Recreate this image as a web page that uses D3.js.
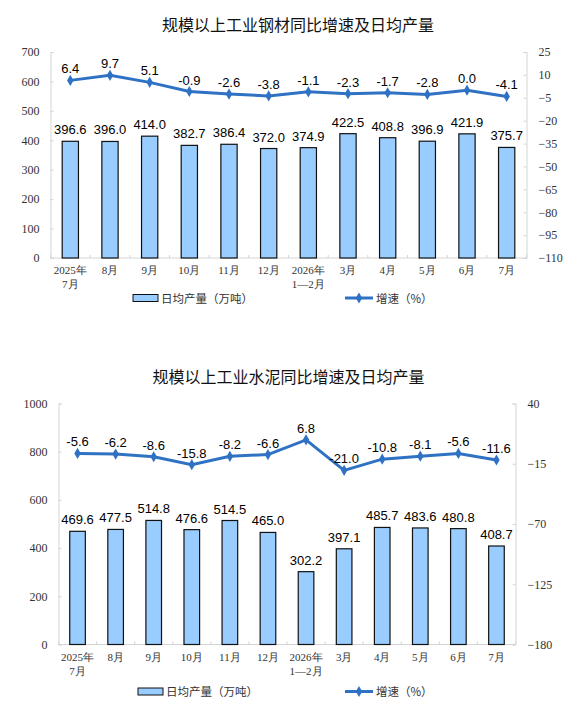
<!DOCTYPE html>
<html><head><meta charset="utf-8">
<script src="https://cdn.jsdelivr.net/npm/d3@7"></script>
<style>
body{margin:0;background:#fff;}
svg{display:block;}
</style></head>
<body>
<svg id="c" width="576" height="716"></svg>
<script>
const categories = ["2025年|7月","8月","9月","10月","11月","12月","2026年|1—2月","3月","4月","5月","6月","7月"];
const steelTitle = "规模以上工业钢材同比增速及日均产量";
const steelOutput = [396.6,396.0,414.0,382.7,386.4,372.0,374.9,422.5,408.8,396.9,421.9,375.7];
const steelGrowth = [6.4,9.7,5.1,-0.9,-2.6,-3.8,-1.1,-2.3,-1.7,-2.8,0.0,-4.1];
const steelLeftTicks = [0,100,200,300,400,500,600,700];
const steelRightTicks = [25,10,-5,-20,-35,-50,-65,-80,-95,-110];
const cementTitle = "规模以上工业水泥同比增速及日均产量";
const cementOutput = [469.6,477.5,514.8,476.6,514.5,465.0,302.2,397.1,485.7,483.6,480.8,408.7];
const cementGrowth = [-5.6,-6.2,-8.6,-15.8,-8.2,-6.6,6.8,-21.0,-10.8,-8.1,-5.6,-11.6];
const cementLeftTicks = [0,200,400,600,800,1000];
const cementRightTicks = [40,-15,-70,-125,-180];
const legendBar = "日均产量（万吨）";
const legendLine = "增速（%）";

const svg = d3.select("#c");
const BLUE = "#2F72C4";
const BAR = "#99CCFF";
const AX = "#D4D4D4";
const sans = "'Liberation Sans', Arial, sans-serif";
const serif = "'Liberation Serif', 'Times New Roman', serif";
const cjk = "'Noto Sans CJK SC', sans-serif";

function chart(o){
  const g = svg.append("g");
  g.append("text").attr("x",o.titleX).attr("y",o.titleY).attr("text-anchor","middle")
    .attr("font-family",cjk).attr("font-size",16).attr("font-weight",400).attr("fill","#111").text(o.title);

  const x = d3.scaleBand().domain(o.cats).range([o.left,o.right]);
  const yL = d3.scaleLinear().domain([0,d3.max(o.lt)]).range([o.bottom,o.top]);
  const yR = d3.scaleLinear().domain([d3.min(o.rt),d3.max(o.rt)]).range([o.bottom,o.top]);

  // axes
  const la = g.append("g").attr("transform",`translate(${o.left},0)`)
    .call(d3.axisLeft(yL).tickValues(o.lt).tickSize(-3).tickPadding(11).tickFormat(d3.format("d")));
  const ra = g.append("g").attr("transform",`translate(${o.right},0)`)
    .call(d3.axisRight(yR).tickValues(o.rt).tickSize(-3).tickPadding(12).tickFormat(d3.format("d")));
  [la,ra].forEach(a=>{
    a.select(".domain").attr("stroke",AX);
    a.selectAll(".tick line").attr("stroke",AX);
    a.selectAll(".tick text").attr("font-family",serif).attr("font-size",12).attr("fill","#333");
  });
  // bottom axis
  g.append("line").attr("x1",o.left).attr("x2",o.right).attr("y1",o.bottom).attr("y2",o.bottom).attr("stroke",AX);
  const bounds = o.cats.map(c=>x(c)).concat([o.right]);
  g.selectAll(".bt").data(bounds).join("line").attr("x1",d=>d).attr("x2",d=>d)
    .attr("y1",o.bottom).attr("y2",o.bottom-3).attr("stroke",AX);
  const xl = g.selectAll(".xl").data(o.cats).join("text")
    .attr("text-anchor","middle").attr("font-family",serif).attr("font-size",11).attr("fill","#333");
  xl.each(function(c){
    const parts = c.split("|");
    const t = d3.select(this);
    parts.forEach((p,i)=>{
      t.append("tspan").attr("x",x(c)+x.bandwidth()/2).attr("y",o.bottom+16+i*14).text(p);
    });
  });

  // bars
  const bw = x.bandwidth()*0.41;
  g.selectAll(".bar").data(o.bars).join("rect")
    .attr("x",(d,i)=>x(o.cats[i])+x.bandwidth()/2-bw/2)
    .attr("y",d=>yL(d)).attr("width",bw).attr("height",d=>o.bottom-yL(d))
    .attr("fill",BAR).attr("stroke","#111").attr("stroke-width",1.2);
  g.selectAll(".bl").data(o.bars).join("text")
    .attr("x",(d,i)=>x(o.cats[i])+x.bandwidth()/2).attr("y",d=>yL(d)-7)
    .attr("text-anchor","middle").attr("font-family",sans).attr("font-size",13).attr("fill","#000")
    .text(d=>d.toFixed(1));

  // line
  const cx = (d,i)=>x(o.cats[i])+x.bandwidth()/2;
  g.append("path").datum(o.line)
    .attr("d",d3.line().x(cx).y(d=>yR(d)))
    .attr("fill","none").attr("stroke",BLUE).attr("stroke-width",3);
  const dia = d3.symbol().type(d3.symbolDiamond).size(36);
  g.selectAll(".mk").data(o.line).join("path").attr("d",dia)
    .attr("transform",(d,i)=>`translate(${cx(d,i)},${yR(d)})`).attr("fill",BLUE);
  g.selectAll(".ll").data(o.line).join("text")
    .attr("x",cx).attr("y",d=>yR(d)-7)
    .attr("text-anchor","middle").attr("font-family",sans).attr("font-size",13).attr("fill","#000")
    .text(d=>d.toFixed(1));

  // legend
  const ly = o.legY;
  g.append("rect").attr("x",o.legBX).attr("y",ly-3.5).attr("width",25).attr("height",7)
    .attr("fill",BAR).attr("stroke","#111").attr("stroke-width",1);
  g.append("text").attr("x",o.legBX+28).attr("y",ly+4.5).attr("font-family",cjk).attr("font-size",11.5)
    .attr("fill","#333").text(legendBar);
  g.append("line").attr("x1",o.legLX).attr("x2",o.legLX+28).attr("y1",ly).attr("y2",ly)
    .attr("stroke",BLUE).attr("stroke-width",3);
  g.append("path").attr("d",dia).attr("transform",`translate(${o.legLX+14},${ly})`).attr("fill",BLUE);
  g.append("text").attr("x",o.legLX+31).attr("y",ly+4.5).attr("font-family",cjk).attr("font-size",11.5)
    .attr("fill","#333").text(legendLine);
}

chart({title:steelTitle,titleX:298,titleY:31,cats:categories,bars:steelOutput,line:steelGrowth,
  lt:steelLeftTicks,rt:steelRightTicks,left:50.5,right:526.5,top:52,bottom:258,
  legY:298,legBX:133,legLX:345});
chart({title:cementTitle,titleX:288.5,titleY:383,cats:categories,bars:cementOutput,line:cementGrowth,
  lt:cementLeftTicks,rt:cementRightTicks,left:58.5,right:515.5,top:403.5,bottom:644.5,
  legY:691.5,legBX:138,legLX:345});
</script>
</body></html>
